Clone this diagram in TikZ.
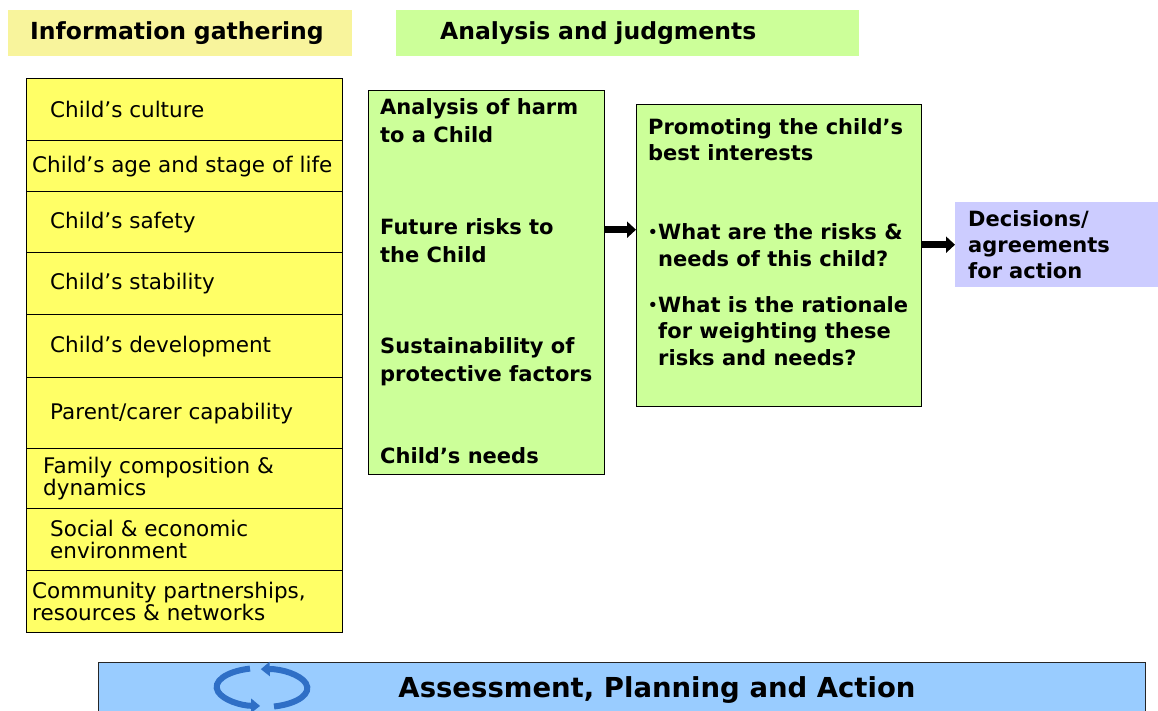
\documentclass[tikz,border=0pt]{standalone}
\usepackage{fontspec}
\setmainfont{DejaVu Sans}
\usetikzlibrary{positioning,arrows.meta}
\definecolor{headyellow}{HTML}{F8F49C}
\definecolor{rowyellow}{HTML}{FFFF66}
\definecolor{palegreen}{HTML}{CCFF99}
\definecolor{lavender}{HTML}{CCCCFF}
\definecolor{barblue}{HTML}{99CCFF}
\definecolor{cycleblue}{HTML}{2F6FC6}
\newcommand{\qdot}{\makebox[10pt][l]{\fontsize{15}{15}\selectfont\raisebox{2pt}{•}}}
\tikzset{
  headbox/.style={anchor=north west, minimum height=46pt, align=left, font=\fontsize{23.5}{28}\selectfont\bfseries},
  rowbox/.style={draw, fill=rowyellow, line width=1.4pt, anchor=north west, minimum width=316pt},
  rowtext/.style={anchor=west, align=left, font=\fontsize{21.5}{22}\selectfont},
  greenbox/.style={draw, fill=palegreen, line width=1.4pt, anchor=north west},
  boldtext/.style={anchor=west, align=left, font=\fontsize{21}{28}\selectfont\bfseries},
  fatarrow/.style={line width=7pt, -{Triangle[length=9pt,width=16pt]}},
  cyclearrow/.style={line width=6pt, cycleblue, -{Triangle[length=9pt,width=14pt]}}
}
\begin{document}
\begin{tikzpicture}[x=1pt,y=-1pt,every node/.style={inner sep=0pt}]
    \useasboundingbox (0,0) rectangle (1158,711);
    \clip (0,0) rectangle (1158,711);
    \node[headbox, fill=headyellow, minimum width=344pt, text width=300pt, inner xsep=22pt] (info) at (8,10) {Information gathering};
    \node[headbox, fill=palegreen, minimum width=463pt, text width=375pt, inner xsep=44pt] (analysis) at (396,10) {Analysis and judgments};
    \foreach \ya/\hh/\dx/\txt [count=\n] in {78/62/24/{Child’s culture}, 140/51/6/{Child’s age and stage of life}, 191/61/24/{Child’s safety}, 252/62/24/{Child’s stability}, 314/63/24/{Child’s development}, 377/71/24/{Parent/carer capability}, 448/60/17/{Family composition \&\\dynamics}, 508/62/24/{Social \& economic\\environment}, 570/62/6/{Community partnerships,\\resources \& networks}}
    {
        \node[rowbox, minimum height=\hh pt] (row_\n) at (26,\ya) {};
        \node[rowtext] (lbl_\n) at ([xshift=\dx pt]row_\n.west) {\txt};
    }
    \node[greenbox, minimum width=236pt, minimum height=384pt] (judge) at (368,90) {};
    \node[boldtext] (harm) at (380,121) {Analysis of harm\\to a Child};
    \node[boldtext] (future) at (380,241) {Future risks to\\the Child};
    \node[boldtext] (sustain) at (380,362) {Sustainability of\\protective factors};
    \node[boldtext] (needs) at (380,456) {Child’s needs};
    \node[greenbox, minimum width=285pt, minimum height=302pt] (promote) at (636,104) {};
    \node[boldtext, font=\fontsize{21}{26}\selectfont\bfseries] (best) at (648,140) {Promoting the child’s\\best interests};
    \node[boldtext, font=\fontsize{21}{27}\selectfont\bfseries] (q_1) at (648,245) {\qdot What are the risks \&\\\hspace*{10pt}needs of this child?};
    \node[boldtext, font=\fontsize{21}{26.5}\selectfont\bfseries] (q_2) at (648,331) {\qdot What is the rationale\\\hspace*{10pt}for weighting these\\\hspace*{10pt}risks and needs?};
    \node[fill=lavender, anchor=north west, minimum width=203pt, minimum height=85pt, text width=177pt, inner xsep=13pt, align=left, font=\fontsize{21}{26}\selectfont\bfseries] (decide) at (955,202) {Decisions/\\agreements\\for action};
    \coordinate (a_1) at ([yshift=26pt]promote.west);
    \draw[fatarrow] (judge.east |- a_1) -- (a_1);
    \draw[fatarrow] (promote.east |- decide.west) -- (decide.west);
    \node[draw=black!85, fill=barblue, line width=1.4pt, anchor=north west, minimum width=1047pt, minimum height=70pt] (bar) at (98,662) {};
    \node[font=\fontsize{27.5}{32}\selectfont\bfseries] (apa) at (657,690) {Assessment, Planning and Action};
    \draw[cyclearrow] (274,706.5) arc[start angle=75, end angle=-92, x radius=45, y radius=19];
    \draw[cyclearrow] (250,668.6) arc[start angle=255, end angle=92, x radius=45, y radius=19];
\end{tikzpicture}
\end{document}
